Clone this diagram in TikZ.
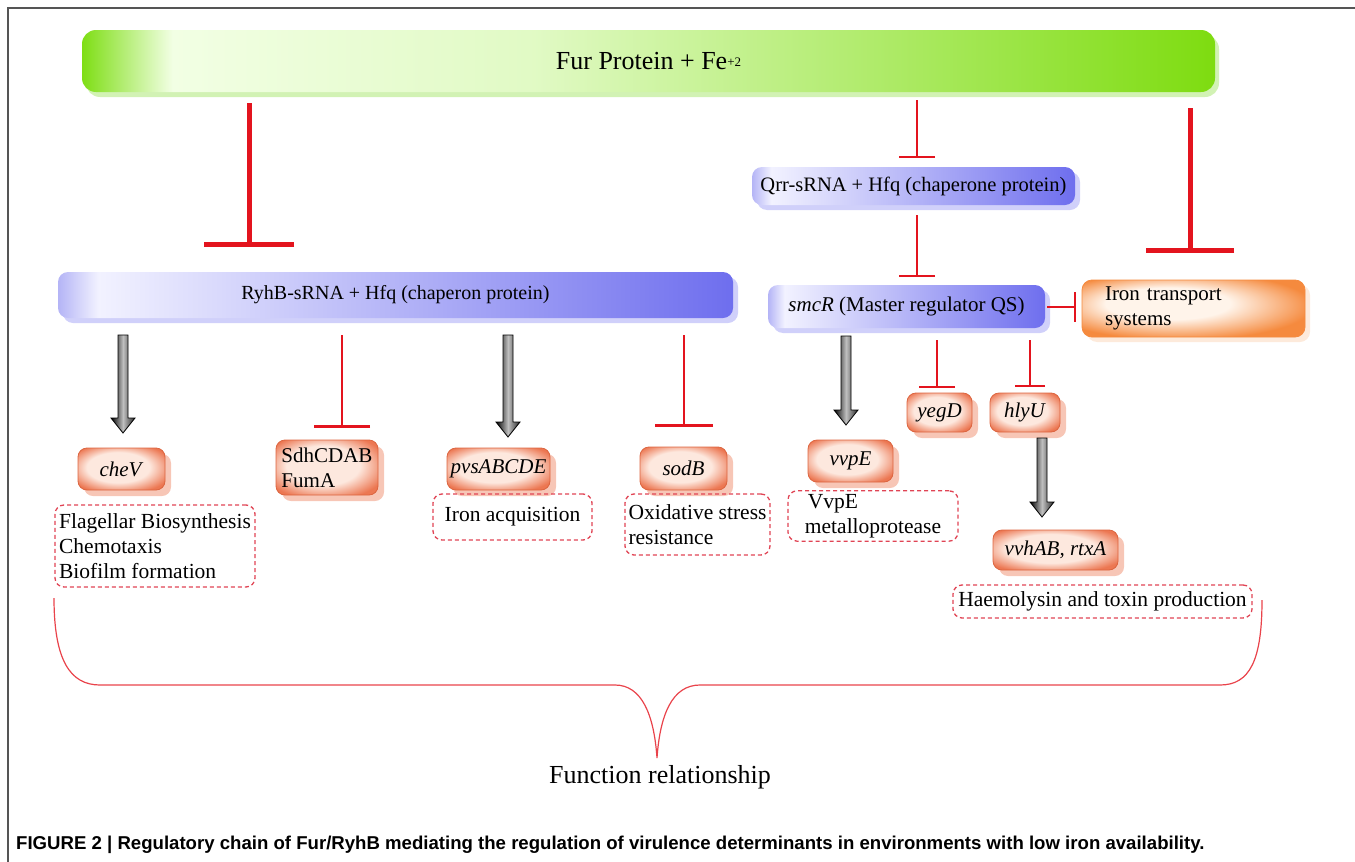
\documentclass[tikz,border=0pt]{standalone}
\usepackage{fontspec}
\setmainfont{Liberation Serif}
\newfontfamily\capfont{Liberation Sans}
\usetikzlibrary{arrows.meta,shadows,calc}
\definecolor{gA}{HTML}{7EDE14}
\definecolor{gB}{HTML}{F2FFE4}
\definecolor{gC}{HTML}{7EDC10}
\definecolor{gS}{HTML}{D2F2B4}
\definecolor{bA}{HTML}{B4B4F6}
\definecolor{bB}{HTML}{F2F2FF}
\definecolor{bC}{HTML}{6E6EEE}
\definecolor{bS}{HTML}{D0D0FA}
\definecolor{oIn}{HTML}{FDE8DE}
\definecolor{oOut}{HTML}{EC7752}
\definecolor{oLine}{HTML}{DC6540}
\definecolor{oS}{HTML}{F7C6B6}
\definecolor{iIn}{HTML}{FFF4EA}
\definecolor{iOut}{HTML}{F58A3E}
\definecolor{inhred}{HTML}{E3141E}
\definecolor{dashred}{HTML}{E04454}
\definecolor{frame}{HTML}{555555}
\pgfdeclarehorizontalshading{greenbar}{100bp}{color(0bp)=(gA); color(25bp)=(gA); color(29bp)=(gB); color(45bp)=(gB!85!gC); color(75bp)=(gC); color(100bp)=(gC)}
\pgfdeclarehorizontalshading{bluebar}{100bp}{color(0bp)=(bA); color(25bp)=(bA); color(28bp)=(bB); color(75bp)=(bC); color(100bp)=(bC)}
\pgfdeclarehorizontalshading{fatshade}{100bp}{color(0bp)=(black); color(25bp)=(black); color(50bp)=(black!25); color(75bp)=(black!85); color(100bp)=(black!85)}
\pgfdeclareradialshading{orsh}{\pgfpoint{-3bp}{3bp}}{color(0bp)=(oIn); color(18bp)=(oIn); color(31bp)=(oOut); color(50bp)=(oOut)}
\pgfdeclareradialshading{irsh}{\pgfpoint{-8bp}{6bp}}{color(0bp)=(iIn); color(14bp)=(iIn); color(30bp)=(iOut); color(50bp)=(iOut)}
\tikzset{
  txt/.style={font=\fontsize{21}{25}\selectfont},
  greenbox/.style={shading=greenbar, rounded corners=14pt,
    general shadow={shadow xshift=4pt, shadow yshift=-5pt, fill=gS}},
  bluebox/.style={shading=bluebar, rounded corners=10pt,
    general shadow={shadow xshift=5pt, shadow yshift=-5pt, fill=bS}},
  orangebox/.style={txt, shading=orsh, draw=oLine, line width=0.8pt,
    rounded corners=9pt, general shadow={shadow xshift=6pt, shadow yshift=-6pt, fill=oS}},
  ironbox/.style={txt, shading=irsh, draw=iOut, line width=0.8pt,
    rounded corners=10pt, general shadow={shadow xshift=5pt, shadow yshift=-5pt, fill=iIn!60!iOut!40}},
  funcbox/.style={font=\fontsize{21.5}{25}\selectfont, draw=dashred, dash pattern=on 4pt off 3pt, line width=1.3pt, rounded corners=9pt},
  inhthick/.style={draw=inhred, line width=5pt, -{Bar[width=90pt, line width=5pt]}},
  inhthin/.style={draw=inhred, line width=2pt, -{Bar[width=36pt, line width=2.5pt]}},
  fatarr/.style={shading=fatshade, draw=black, line width=0.8pt},
  brace/.style={draw=inhred!80, line width=1.2pt}
}
\newcommand\fatarrow[2]{\path[fatarr] let \p1=(#1), \p2=(#2) in
  (\x1-5pt,\y1) -- (\x1+5pt,\y1) -- (\x1+5pt,\y2+15pt) -- (\x1+12pt,\y2+15pt) --
  (\x1,\y2) -- (\x1-12pt,\y2+15pt) -- (\x1-5pt,\y2+15pt) -- cycle;}
\begin{document}
\begin{tikzpicture}[x=1pt,y=-1pt]
\useasboundingbox (0,0) rectangle (1355,862);
\draw[frame, line width=1.5pt] (8,875) -- (8,8) -- (1365,8);

% main boxes
\node[greenbox, font=\fontsize{26}{30}\selectfont, minimum width=1133pt, minimum height=62pt] (fur) at (648.5,61) {Fur Protein + Fe\raisebox{3pt}{\fontsize{13}{13}\selectfont +2}};
\node[bluebox, font=\fontsize{20.5}{25}\selectfont, minimum width=323pt, minimum height=38pt] (qrr) at (913.5,186) {Qrr-sRNA + Hfq (chaperone protein)};
\node[bluebox, font=\fontsize{21}{25}\selectfont, minimum width=277pt, minimum height=43pt] (smcr) at (906.5,306.5) {\textit{smcR} (Master regulator QS)};
\node[ironbox, minimum width=223pt, minimum height=57pt, text width=177pt, inner xsep=23pt, align=left] (iron) at (1193.5,308.5) {Iron transport\\systems};
\node[bluebox, font=\fontsize{20}{25}\selectfont, minimum width=675pt, minimum height=46pt] (ryhb) at (395.5,295) {RyhB-sRNA + Hfq (chaperon protein)};

% gene boxes
\node[orangebox, minimum width=87pt, minimum height=42pt] (chev) at (121.5,469) {\textit{cheV}};
\node[orangebox, minimum width=102pt, minimum height=55pt, align=left] (sdh) at (327,467.5) {SdhCDAB\\FumA};
\node[orangebox, minimum width=103pt, minimum height=42pt, inner xsep=2pt] (pvs) at (498.5,469) {\textit{pvsABCDE}};
\node[orangebox, minimum width=87pt, minimum height=43pt] (sodb) at (683.5,468.5) {\textit{sodB}};
\node[orangebox, minimum width=85pt, minimum height=42pt] (vvpe) at (850.5,461) {\textit{vvpE}};
\node[orangebox, minimum width=65pt, minimum height=39pt, inner xsep=2pt] (yegd) at (939.5,412.5) {\textit{yegD}};
\node[orangebox, minimum width=70pt, minimum height=39pt] (hlyu) at (1025,412.5) {\textit{hlyU}};
\node[orangebox, minimum width=125pt, minimum height=40pt, inner xsep=2pt] (vvhab) at (1055.5,550) {\textit{vvhAB, rtxA}};

% function boxes
\node[funcbox, minimum width=200pt, minimum height=82pt, align=left] (f1) at (155,546) {Flagellar Biosynthesis\\Chemotaxis\\Biofilm formation};
\node[funcbox, minimum width=159pt, minimum height=46pt] (f2) at (512.5,517) {Iron acquisition};
\node[funcbox, minimum width=145pt, minimum height=61pt, align=left] (f3) at (697.5,524.5) {Oxidative stress\\resistance};
\node[funcbox, minimum width=170pt, minimum height=48pt, align=left] (f4) at (873,516) {\hspace*{3pt}VvpE\\metalloprotease};
\node[funcbox, minimum width=299pt, minimum height=33pt, inner xsep=2pt] (f5) at (1102.5,601.5) {Haemolysin and toxin production};

% connector end points
\coordinate (furA) at (249,103);   \coordinate (ryhbT) at (249,247);
\coordinate (furB) at (917,100);   \coordinate (qrrT) at (917,158);
\coordinate (furC) at (1190,108);  \coordinate (ironT) at (1190,253);
\coordinate (qrrB) at (917,215);   \coordinate (smcrT) at (917,277);
\coordinate (smcrR) at (1047,307); \coordinate (ironL) at (1076,307);
\coordinate (ryhbA) at (123,335);  \coordinate (chevT) at (123,433);
\coordinate (ryhbB) at (342,335);  \coordinate (sdhT) at (342,428);
\coordinate (ryhbC) at (508,335);  \coordinate (pvsT) at (508,437);
\coordinate (ryhbD) at (684,335);  \coordinate (sodbT) at (684,427);
\coordinate (smcrA) at (846,336);  \coordinate (vvpeT) at (846,425);
\coordinate (smcrB) at (937,340);  \coordinate (yegdT) at (937,388);
\coordinate (smcrC) at (1030,340); \coordinate (hlyuT) at (1030,387);
\coordinate (hlyuB) at (1042,438); \coordinate (vvhabT) at (1042,517);

% inhibitions
\draw[inhthick] (furA) -- (ryhbT);
\draw[inhthick, -{Bar[width=88pt, line width=5pt]}] (furC) -- (ironT);
\draw[inhthin] (furB) -- (qrrT);
\draw[inhthin] (qrrB) -- (smcrT);
\draw[inhthin, -{Bar[width=30pt, line width=2.5pt]}] (smcrR) -- (ironL);
\draw[inhthin, line width=2.5pt, -{Bar[width=56pt, line width=3.5pt]}] (ryhbB) -- (sdhT);
\draw[inhthin, line width=2.5pt, -{Bar[width=58pt, line width=3.5pt]}] (ryhbD) -- (sodbT);
\draw[inhthin] (smcrB) -- (yegdT);
\draw[inhthin, -{Bar[width=30pt, line width=2.5pt]}] (smcrC) -- (hlyuT);

% activations
\fatarrow{ryhbA}{chevT}
\fatarrow{ryhbC}{pvsT}
\fatarrow{smcrA}{vvpeT}
\fatarrow{hlyuB}{vvhabT}

% brace
\coordinate (brL) at (54,598);
\coordinate (brR) at (1262,600);
\coordinate (brM) at (657,758);
\draw[brace] (brL) .. controls (54,660) and (70,685) .. (100,685) -- (615,685)
  .. controls (642,685) and (654,715) .. (brM)
  .. controls (660,715) and (672,685) .. (700,685) -- (1220,685)
  .. controls (1250,685) and (1262,660) .. (brR);
\node[font=\fontsize{26}{30}\selectfont] (func) at (660,777) {Function relationship};

% caption
\node[anchor=base west, inner sep=0pt, font=\capfont\bfseries\fontsize{18.6}{20}\selectfont] (cap) at (16,849)
  {FIGURE 2 | Regulatory chain of Fur/RyhB mediating the regulation of virulence determinants in environments with low iron availability.};
\end{tikzpicture}
\end{document}
